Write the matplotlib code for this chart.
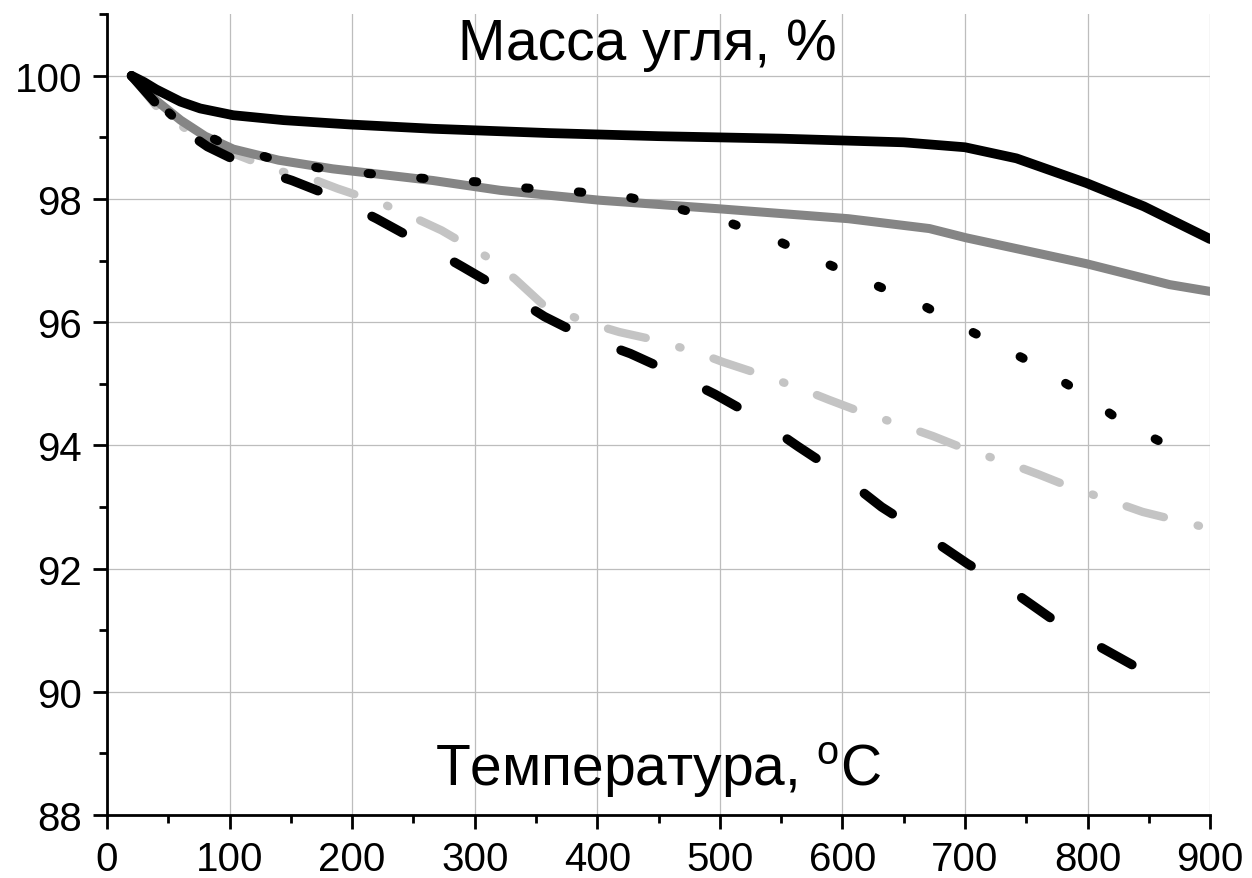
import matplotlib
matplotlib.use("Agg")
import matplotlib.pyplot as plt
from matplotlib.ticker import MultipleLocator

plt.rcParams['font.family'] = ['Liberation Sans', 'DejaVu Sans']
plt.rcParams['mathtext.fontset'] = 'custom'
plt.rcParams['mathtext.rm'] = 'Liberation Sans'
plt.rcParams['lines.scale_dashes'] = False

# solid black curve
t_black = [20, 30, 40, 50, 60, 76, 103, 144, 198, 266, 361, 450, 550, 650, 700, 742, 799, 846, 900]
m_black = [100, 99.9, 99.78, 99.68, 99.58, 99.47, 99.36, 99.28, 99.21, 99.14, 99.07, 99.02, 98.98,
           98.92, 98.84, 98.66, 98.26, 97.88, 97.35]

# solid gray curve
t_gray = [20, 40, 60, 80, 103, 140, 184, 266, 321, 361, 402, 500, 605, 671, 701, 799, 867, 900]
m_gray = [100, 99.6, 99.28, 99.02, 98.81, 98.63, 98.49, 98.30, 98.14, 98.06, 97.98, 97.84, 97.68,
          97.52, 97.37, 96.95, 96.61, 96.50]

# dotted black curve
t_dot = [20, 40, 58, 98, 140, 180, 220, 261, 301, 341, 382, 423, 463, 503, 543, 584, 625, 666,
         707, 747, 787, 827, 870]
m_dot = [100, 99.6, 99.26, 98.87, 98.62, 98.48, 98.40, 98.33, 98.28, 98.18, 98.12, 98.04, 97.86,
         97.65, 97.36, 96.98, 96.62, 96.27, 95.83, 95.42, 94.95, 94.40, 93.95]

# dashed black curve
t_dash = [20, 40, 60, 82, 114, 151, 184, 220, 253, 290, 321, 357, 390, 427, 459, 496, 529, 564,
          596, 632, 665, 702, 734, 769, 802, 839, 873]
m_dash = [100, 99.55, 99.15, 98.85, 98.54, 98.30, 98.04, 97.68, 97.32, 96.90, 96.54, 96.09, 95.76,
          95.49, 95.20, 94.83, 94.46, 93.98, 93.56, 93.0, 92.58, 92.08, 91.70, 91.21, 90.82,
          90.41, 90.15]

# dash-dot light gray curve
t_light = [20, 45, 75, 103, 139, 163, 188, 224, 247, 273, 310, 333, 357, 396, 418, 443, 480, 503,
           529, 565, 589, 613, 651, 674, 698, 737, 760, 784, 822, 845, 900]
m_light = [100, 99.39, 99.0, 98.74, 98.46, 98.36, 98.17, 97.93, 97.73, 97.49, 97.06, 96.70, 96.26,
           95.97, 95.84, 95.73, 95.52, 95.35, 95.18, 94.93, 94.74, 94.56, 94.31, 94.15, 93.96,
           93.70, 93.53, 93.34, 93.08, 92.92, 92.65]

fig = plt.figure(figsize=(12.52, 8.79), dpi=100)
ax = fig.add_axes([0.0855, 0.0717, 0.881, 0.911])

ax.plot(t_light, m_light, color='#c4c4c4', lw=6, dashes=(28, 25, 1, 25),
        dash_capstyle='round', solid_joinstyle='round')
ax.plot(t_gray, m_gray, color='#858585', lw=6.5, solid_capstyle='round')
ax.plot(t_dash, m_dash, color='black', lw=6.8, dashes=(25, 43), dash_capstyle='round')
ax.plot(t_dot, m_dot, color='black', lw=6.5, dashes=(2.5, 35.5), dash_capstyle='round')
ax.plot(t_black, m_black, color='black', lw=7, solid_capstyle='round')

ax.set_xlim(0, 900)
ax.set_ylim(88, 101)
ax.xaxis.set_major_locator(MultipleLocator(100))
ax.xaxis.set_minor_locator(MultipleLocator(50))
ax.yaxis.set_major_locator(MultipleLocator(2))
ax.yaxis.set_minor_locator(MultipleLocator(1))

ax.grid(True, which='major', color='#bdbdbd', lw=0.9)
ax.set_axisbelow(True)
for s in ['top', 'right']:
    ax.spines[s].set_visible(False)
for s in ['left', 'bottom']:
    ax.spines[s].set_linewidth(2)
ax.tick_params(which='major', direction='out', length=10, width=2, labelsize=29, pad=8)
ax.tick_params(which='minor', direction='out', length=6, width=2)

ax.text(0.49, 0.944, 'Масса угля, %', transform=ax.transAxes, ha='center', va='baseline',
        fontsize=41)
ax.text(0.5, 0.036, r'Температура, $^{\mathregular{o}}$C', transform=ax.transAxes,
        ha='center', va='baseline', fontsize=41)

fig.savefig('out.png', dpi=100)
